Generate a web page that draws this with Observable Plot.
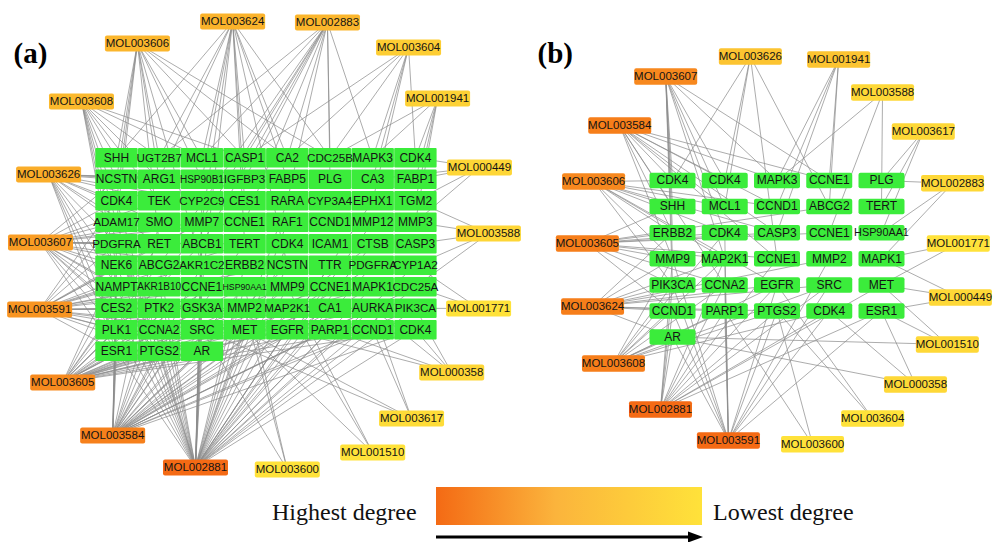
<!DOCTYPE html>
<html>
<head>
<meta charset="utf-8">
<script src="https://cdn.jsdelivr.net/npm/d3@7"></script>
<script src="https://cdn.jsdelivr.net/npm/@observablehq/plot@0.6"></script>
<style>
  body { margin: 0; background: #fff; }
  #wrap { position: relative; width: 995px; height: 542px; overflow: hidden; background: #fff; }
  #panels { display: flex; }
  #legend { position: relative; height: 64px; font-family: "Liberation Serif", "Times New Roman", serif; }
  #legend .lab { position: absolute; font-size: 24px; line-height: 24px; color: #111; white-space: nowrap; }
</style>
</head>
<body>
<div id="wrap">
  <div id="panels"></div>
  <div id="legend"></div>
</div>
<script>
// ---------- Panel (a) ----------
const targetsA = [
  "SHH","UGT2B7","MCL1","CASP1","CA2","CDC25B","MAPK3","CDK4",
  "NCSTN","ARG1","HSP90B1","IGFBP3","FABP5","PLG","CA3","FABP1",
  "CDK4","TEK","CYP2C9","CES1","RARA","CYP3A4","EPHX1","TGM2",
  "ADAM17","SMO","MMP7","CCNE1","RAF1","CCND1","MMP12","MMP3",
  "PDGFRA","RET","ABCB1","TERT","CDK4","ICAM1","CTSB","CASP3",
  "NEK6","ABCG2","AKR1C2","ERBB2","NCSTN","TTR","PDGFRA","CYP1A2",
  "NAMPT","AKR1B10","CCNE1","HSP90AA1","MMP9","CCNE1","MAPK1","CDC25A",
  "CES2","PTK2","GSK3A","MMP2","MAP2K1","CA1","AURKA","PIK3CA",
  "PLK1","CCNA2","SRC","MET","EGFR","PARP1","CCND1","CDK4",
  "ESR1","PTGS2","AR"
];
const colsA = 8;
const moleculesA = ["MOL003624","MOL002883","MOL003606","MOL003604","MOL003608","MOL001941","MOL003626","MOL000449","MOL003607","MOL003588","MOL003591","MOL001771","MOL003605","MOL000358","MOL003617","MOL003584","MOL001510","MOL002881","MOL003600"];
// layout position of each compound, in grid units (column, row)
const molColA = [2.72, 4.94, 0.49, 6.84, -0.82, 7.52, -1.59, 8.50, -1.78, 8.71, -1.80, 8.48, -1.26, 7.85, 6.91, -0.09, 6.00, 1.85, 4.00];
const molRowA = [-6.34, -6.29, -5.32, -5.13, -2.62, -2.76, 0.78, 0.45, 3.94, 3.52, 7.06, 7.01, 10.45, 9.99, 12.13, 12.92, 13.71, 14.40, 14.50];
// compound -> target links (target index in targetsA)
const edgesA = [
  [0,1,2,3,4,5,9,10,12,19,26,35,44,50],
  [1,2,3,4,5,6,11,13,20,27,34,41,49],
  [0,1,2,3,4,5,8,9,10,16,24,33,42],
  [3,4,5,6,7,14,22],
  [0,1,2,3,8,9,16,17,24,32,40,48],
  [5,6,7,15,23,31],
  [8,9,10,11,16,17,18,24,25,32,33,40,48,56,64,72],
  [7,14,15,23,31],
  [8,16,17,24,25,26,27,32,33,34,35,40,41,42,48,49,56,57,64,65,72,73],
  [23,31,39,47,55],
  [16,24,26,32,33,35,40,41,42,44,48,49,50,51,56,57,58,59,64,65,66,67,72,73,74],
  [47,55,63],
  [33,34,40,41,43,48,49,50,51,52,53,54,56,57,58,59,60,61,62,64,65,66,67,68,69,70,71,72,73,74],
  [62,63,68,69,71],
  [58,62,66,70],
  [25,32,35,38,40,42,44,46,48,49,50,51,52,53,54,55,56,57,58,59,60,61,62,63,64,65,66,67,68,69,70,71,72,73,74],
  [52,60,67],
  [16,18,20,22,24,26,28,30,32,34,36,38,40,41,42,43,44,45,46,47,48,49,50,51,52,53,54,55,56,57,58,59,60,61,62,63,64,65,66,67,68,69,70,71,72,73,74],
  [51,59,66]
];

// ---------- Panel (b) ----------
const targetsB = [
  "CDK4","CDK4","MAPK3","CCNE1","PLG",
  "SHH","MCL1","CCND1","ABCG2","TERT",
  "ERBB2","CDK4","CASP3","CCNE1","HSP90AA1",
  "MMP9","MAP2K1","CCNE1","MMP2","MAPK1",
  "PIK3CA","CCNA2","EGFR","SRC","MET",
  "CCND1","PARP1","PTGS2","CDK4","ESR1",
  "AR"
];
const colsB = 5;
const moleculesB = ["MOL003626","MOL001941","MOL003607","MOL003588","MOL003584","MOL003617","MOL003606","MOL002883","MOL003605","MOL001771","MOL003624","MOL000449","MOL003608","MOL001510","MOL000358","MOL002881","MOL003604","MOL003591","MOL003600"];
const molColB = [1.49, 3.18, -0.13, 4.02, -1.01, 4.80, -1.51, 5.36, -1.63, 5.47, -1.53, 5.51, -1.13, 5.26, 4.65, -0.23, 3.83, 1.07, 2.68];
const molRowB = [-4.75, -4.64, -3.98, -3.37, -2.11, -1.88, 0.04, 0.11, 2.41, 2.41, 4.83, 4.48, 7.01, 6.28, 7.82, 8.77, 9.12, 9.96, 10.11];
const edgesB = [
  [0,1,6,8,17],
  [2,3,7,8,12],
  [0,1,2,3,5,6,10,11,15,16,20],
  [2,9,13],
  [0,1,2,3,5,6,7,10,12,15,17,21],
  [4,9,14],
  [0,5,6,7,10,11,12,15,16,20,22],
  [4,14,19],
  [5,8,10,11,12,13,15,16,17,20,21,25],
  [19,24],
  [10,15,16,18,20,21,22,23,25,26,27,30],
  [19,24,29],
  [11,15,16,20,21,22,23,25,26,27,28,30],
  [24,29,30],
  [28,29,30],
  [15,16,17,20,21,22,23,24,25,26,27,28,29,30],
  [22,27],
  [11,15,16,18,20,21,22,23,25,26,27,28,29,30],
  [26,27]
];

const LOW = "#FFE23A", HIGH = "#F46A14";

function roundRect(w, h, rr) {
  return {
    draw(ctx) {
      const x = -w / 2, y = -h / 2;
      ctx.moveTo(x + rr, y);
      ctx.lineTo(x + w - rr, y);
      ctx.arcTo(x + w, y, x + w, y + rr, rr);
      ctx.lineTo(x + w, y + h - rr);
      ctx.arcTo(x + w, y + h, x + w - rr, y + h, rr);
      ctx.lineTo(x + rr, y + h);
      ctx.arcTo(x, y + h, x, y + h - rr, rr);
      ctx.lineTo(x, y + rr);
      ctx.arcTo(x, y, x + rr, y, rr);
      ctx.closePath();
    }
  };
}

function panel(o) {
  const tnodes = o.targets.map((name, i) => ({name, c: i % o.cols, r: Math.floor(i / o.cols)}));
  const mnodes = o.mols.map((name, i) => ({name, c: o.molCol[i], r: o.molRow[i], deg: o.edges[i].length}));
  const links = [];
  o.edges.forEach((list, i) => list.forEach(t => links.push({m: mnodes[i], t: tnodes[t]})));
  const rows = Math.ceil(o.targets.length / o.cols);
  const degs = mnodes.map(d => d.deg);
  // shrink long gene names so they stay inside their box
  const fit = d => Math.min(o.tFont, o.tFit / (d.name.length * 0.6));
  return Plot.plot({
    width: o.width,
    height: o.height,
    margin: 0,
    style: {fontFamily: "'Liberation Sans', Arial, sans-serif", background: "transparent"},
    x: {type: "linear", domain: [0, o.cols - 1], range: o.xRange, axis: null},
    y: {type: "linear", domain: [0, rows - 1], range: o.yRange, axis: null},
    color: {type: o.colorType, domain: [d3.min(degs), d3.max(degs)], range: [LOW, HIGH], interpolate: "rgb"},
    marks: [
      Plot.link(links, {x1: d => d.m.c, y1: d => d.m.r, x2: d => d.t.c, y2: d => d.t.r, stroke: "#8c8c8c", strokeWidth: 0.8, strokeOpacity: 0.9}),
      Plot.dot(tnodes, {x: "c", y: "r", symbol: roundRect(o.tW, o.tH, o.tR), fill: "#3BEC3B"}),
      Plot.text(tnodes, {x: "c", y: "r", text: "name", fontSize: fit, fill: "#141414"}),
      Plot.dot(mnodes, {x: "c", y: "r", symbol: roundRect(o.mW, o.mH, 2), fill: "deg"}),
      Plot.text(mnodes, {x: "c", y: "r", text: "name", fontSize: o.mFont, fill: "#141414"}),
      Plot.text([o.label], {text: d => d, frameAnchor: "top-left", textAnchor: "start", dx: o.labelDx, dy: 42, fontSize: 29, fontWeight: "bold", fontFamily: "'Liberation Serif', 'Times New Roman', serif", fill: "#000"})
    ]
  });
}

const panels = document.getElementById("panels");
panels.appendChild(panel({
  label: "(a)", targets: targetsA, cols: colsA, mols: moleculesA, molCol: molColA, molRow: molRowA, edges: edgesA,
  width: 530, height: 478, xRange: [116, 116 + 42.7 * 7], yRange: [157.3, 157.3 + 21.5 * 9],
  colorType: "sqrt", tW: 42.4, tH: 19.5, tR: 1, tFont: 12, tFit: 42, mW: 65, mH: 16, mFont: 11.5, labelDx: 13
}));
panels.appendChild(panel({
  label: "(b)", targets: targetsB, cols: colsB, mols: moleculesB, molCol: molColB, molRow: molRowB, edges: edgesB,
  width: 465, height: 478, xRange: [142, 142 + 52.25 * 4], yRange: [180, 180 + 26.1 * 6],
  colorType: "linear", tW: 46, tH: 15.5, tR: 2, tFont: 12, tFit: 52, mW: 63, mH: 16.5, mFont: 11.5, labelDx: 7
}));

// ---------- Legend ----------
const legend = document.getElementById("legend");
legend.innerHTML = `
  <span class="lab" style="left:272px;top:22px">Highest degree</span>
  <div style="position:absolute;left:436px;top:9px;width:266px;height:38px;background:linear-gradient(to right, ${HIGH}, #FBB43C 45%, ${LOW})"></div>
  <span class="lab" style="left:713px;top:22px">Lowest degree</span>
  <svg style="position:absolute;left:430px;top:52px" width="280" height="14">
    <line x1="6" y1="7" x2="262" y2="7" stroke="#000" stroke-width="3.2"/>
    <path d="M258,1.5 L273,7 L258,12.5 Z" fill="#000"/>
  </svg>`;
</script>
</body>
</html>
